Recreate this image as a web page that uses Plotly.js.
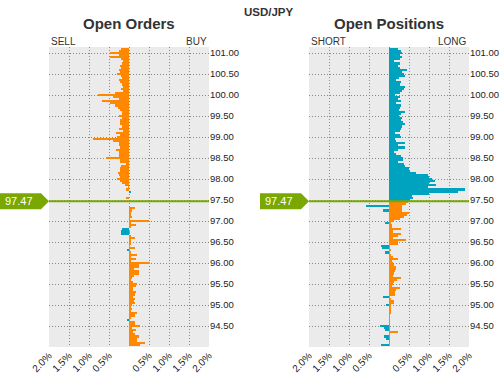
<!DOCTYPE html>
<html>
<head>
<meta charset="utf-8">
<script src="https://cdn.plot.ly/plotly-3.0.1.min.js"></script>
<style>html,body{margin:0;padding:0;background:#fff;}#chart{width:500px;height:374px;}</style>
</head>
<body>
<div id="chart"></div>
<script>
// Price levels (JPY per USD), top to bottom
var prices = [
101.10,101.05,101.00,100.95,100.90,100.85,100.80,100.75,100.70,100.65,
100.60,100.55,100.50,100.45,100.40,100.35,100.30,100.25,100.20,100.15,
100.10,100.05,100.00,99.95,99.90,99.85,99.80,99.75,99.70,99.65,
99.60,99.55,99.50,99.45,99.40,99.35,99.30,99.25,99.20,99.15,
99.10,99.05,99.00,98.95,98.90,98.85,98.80,98.75,98.70,98.65,
98.60,98.55,98.50,98.45,98.40,98.35,98.30,98.25,98.20,98.15,
98.10,98.05,98.00,97.95,97.90,97.85,97.80,97.75,97.70,97.65,
97.60,97.55,97.50,97.45,97.40,97.35,97.30,97.25,97.20,97.15,
97.10,97.05,97.00,96.95,96.90,96.85,96.80,96.75,96.70,96.65,
96.60,96.55,96.50,96.45,96.40,96.35,96.30,96.25,96.20,96.15,
96.10,96.05,96.00,95.95,95.90,95.85,95.80,95.75,95.70,95.65,
95.60,95.55,95.50,95.45,95.40,95.35,95.30,95.25,95.20,95.15,
95.10,95.05,95.00,94.95,94.90,94.85,94.80,94.75,94.70,94.65,
94.60,94.55,94.50,94.45,94.40,94.35,94.30,94.25,94.20,94.15,
94.10,94.05];

// Open orders (% of total), orange series (negative = sell side)
var ordersOrange = [
-0.21,-0.26,-0.48,-0.26,-0.48,-0.21,-0.15,-0.17,-0.23,-0.19,
-0.25,-0.23,-0.30,-0.19,-0.17,-0.25,-0.23,-0.17,-0.15,-0.20,
-0.15,-0.35,-0.78,-0.40,-0.26,-0.68,-0.47,-0.36,-0.28,-0.22,
-0.18,-0.17,-0.25,-0.17,-0.22,-0.23,-0.22,-0.17,-0.25,-0.15,
-0.32,-0.22,-0.30,-0.90,-0.40,-0.25,-0.25,-0.23,-0.33,-0.25,
-0.25,-0.25,-0.58,-0.23,-0.23,-0.08,-0.21,-0.22,-0.23,-0.27,
-0.25,-0.23,-0.30,-0.23,-0.18,-0.11,-0.03,-0.08,0,0,
0,-0.08,0,0,0,0,0.14,0.08,0.06,0.06,
0.08,0.03,0.50,0.05,0.17,0.05,0,0.03,0,0.05,
0.14,0.04,0.04,0.06,0.03,0.14,0.03,0.05,0.21,0.05,
0.17,0.05,0.52,0.24,0.24,0.13,0.25,0.24,0.12,0.08,
0.06,0.10,0.21,0.17,0.10,0.10,0.18,0.14,0.10,0.14,
0.12,0.14,0.08,0.06,0.08,0.05,0.21,0.14,0.06,0.03,
0.16,0.16,0.28,0.08,0.17,0.10,0.15,0.24,0.21,0.21,
0.39,0.28];

// Open orders, teal series
var ordersTeal = [
0,0,0,0,0,0,0,0,0,0,
0,0,0,0,0,0,0,0,0,0,
0,0,0,0,0,0,0,0,0,0,
0,0,0,0,0,0,0,0,0,0,
0,0,0,0,0,0,0,0,0,0,
0,0,0,0,0,0,0,0,0,0,
0,0,0,0,0,0,0,0,0.06,0,
0,0,0,0,0,0,0,0,0,0,
0,0,0,0,0,0,-0.17,-0.19,-0.19,0,
0,0,0,0,0,0,-0.05,0,0,0,
0,0,0,0,0,0,0,0,0,0,
0,0,0,0,0,0,0,0,0,0,
0,0,0,0,0,0,0,0,0,-0.04,
0,0,0,0,0,0,0,0,0,0,
0,0];

// Open positions (% of total), teal series (positive = long)
var positionsTeal = [
0.22,0.31,0.33,0.28,0.33,0.27,0.12,0.28,0.22,0.27,
0.45,0.33,0.37,0.39,0.25,0.18,0.31,0.27,0.39,0.37,
0.33,0.28,0.14,0.28,0.22,0.31,0.17,0.31,0.28,0.25,
0.39,0.31,0.25,0.33,0.31,0.35,0.39,0.33,0.31,0.27,
0.14,0.27,0.31,0.14,0.18,0.39,0.22,0.39,0.22,0.12,
0.17,0.31,0.35,0.35,0.22,0.37,0.39,0.50,0.52,0.67,
0.98,1.00,1.08,1.14,1.00,1.17,0.98,1.89,1.72,1.00,
0.58,0.60,0.52,0,0,-0.58,0,-0.15,0,0,
0,0,0,-0.10,0,0,0,0,0,0,
0,0,0,0,-0.19,-0.17,0,-0.11,0,0,
0,0,0,0,0,0,0,0,0,0,
0,0,0,0,0,0,0,0,-0.15,0,
0,0,-0.07,0,0,0,0,0,0,0,
0,0,-0.23,-0.12,-0.10,0,0,-0.13,-0.07,0,
0,-0.21];

// Open positions, orange series
var positionsOrange = [
0,0,0,0,0,0,0,0,0,0,
0,0,0,0,0,0,0,0,0,0,
0,0,0,0,0,0,0,0,0,0,
0,0,0,0,0,0,0,0,0,0,
0,0,0,0,0,0,0,0,0,0,
0,0,0,0,0,0,0,0,0,0,
0,0,0,0,0,0,0,0,0,0,
0,0,0,0.48,0.42,0.33,0.33,0.33,0.50,0.45,
0.37,0.27,0.12,0.06,0.08,0.08,0.31,0.10,0.31,0.22,
0.10,0.42,0.22,0.22,0.03,0.03,0.06,0.03,0.06,0.10,
0.22,0.08,0.10,0.12,0.17,0.17,0.14,0.12,0.10,0.31,
0.20,0.12,0.10,0.08,0.27,0.17,0.14,0.14,0.03,0.06,
0.12,0.12,0.05,0.06,0.06,0.06,0.06,0.03,0.03,0.03,
0.02,0.03,0.03,0.03,0.02,0.22,0.03,0.02,0.03,0.03,
0.03,0.02];

var currentPrice = 97.47;
var xTickVals = [-2,-1.5,-1,-0.5,0,0.5,1,1.5,2];
var xTickText = ['2.0%','1.5%','1.0%','0.5%','','0.5%','1.0%','1.5%','2.0%'];
var yTickVals = [94.5,95,95.5,96,96.5,97,97.5,98,98.5,99,99.5,100,100.5,101];

var ORANGE = '#ff8800', TEAL = '#00a3bf', GREEN = '#7aa800';
var FONT = 'Liberation Sans, Arial, sans-serif';

function barTrace(vals, color, xa, ya) {
  return {type:'bar', orientation:'h', x: vals, y: prices, width: 0.05,
          xaxis: xa, yaxis: ya, marker:{color: color, line:{width:0}},
          hoverinfo:'skip', showlegend:false};
}

var data = [
  barTrace(ordersOrange, ORANGE, 'x', 'y'),
  barTrace(ordersTeal, TEAL, 'x', 'y'),
  barTrace(positionsTeal, TEAL, 'x2', 'y2'),
  barTrace(positionsOrange, ORANGE, 'x2', 'y2')
];

function xAxis(domain, anchor) {
  return {domain: domain, anchor: anchor, range:[-2,2], tickvals: xTickVals, ticktext: xTickText,
          tickangle:-45, showgrid:true, gridcolor:'#888888', griddash:'1px,2px', gridwidth:1,
          zeroline:false, showline:false, ticks:'', fixedrange:true,
          tickfont:{family:FONT, size:10, color:'#222'}};
}
function yAxis(anchor) {
  return {anchor: anchor, side:'right', range:[94.0, 101.143], tickvals: yTickVals, tickformat:'.2f',
          showgrid:true, gridcolor:'#888888', griddash:'1px,2px', gridwidth:1,
          zeroline:false, showline:false, ticks:'', fixedrange:true,
          tickfont:{family:FONT, size:9.5, color:'#222'}};
}

function flag(xref, yref) {
  return {type:'path', xref: xref, yref: yref, xsizemode:'pixel', ysizemode:'pixel',
          xanchor: 0, yanchor: currentPrice,
          path:'M -49,8 L -8,8 L 0,0 L -8,-8 L -49,-8 Z',
          fillcolor: GREEN, line:{width:0}, layer:'above'};
}
function priceLine(xref, yref) {
  return {type:'line', xref: xref, yref: yref, x0:0, x1:1, y0: currentPrice, y1: currentPrice,
          line:{color: GREEN, width:2}, layer:'above'};
}
function txt(text, xref, x, xanchor, ypx, size, bold) {
  return {text: bold ? '<b>'+text+'</b>' : text, xref: xref, x: x, xanchor: xanchor,
          yref:'paper', y: 1 + (46.7 - ypx)/300, yanchor:'middle', showarrow:false,
          font:{family:FONT, size:size, color:'#333'}};
}

var layout = {
  width:500, height:374,
  margin:{l:49, r:31, t:46.7, b:27.3},
  paper_bgcolor:'#ffffff', plot_bgcolor:'#ebebeb',
  barmode:'overlay', bargap:0,
  font:{family:FONT},
  hovermode:false,
  xaxis: xAxis([0, 160/420], 'y'),
  yaxis: yAxis('x'),
  xaxis2: xAxis([260/420, 1], 'y2'),
  yaxis2: yAxis('x2'),
  shapes:[priceLine('x domain','y'), priceLine('x2 domain','y2'), flag('x domain','y'), flag('x2 domain','y2')],
  annotations:[
    txt('USD/JPY', 'paper', (268.5-49)/420, 'center', 11.5, 11.5, true),
    txt('Open Orders', 'x domain', 0.5, 'center', 23, 15, true),
    txt('Open Positions', 'x2 domain', 0.5, 'center', 23, 15, true),
    txt('SELL', 'x domain', 0, 'left', 41.5, 10, false),
    txt('BUY', 'x domain', 1, 'right', 41.5, 10, false),
    txt('SHORT', 'x2 domain', 0, 'left', 41.5, 10, false),
    txt('LONG', 'x2 domain', 1, 'right', 41.5, 10, false),
    {text:'97.47', xref:'x domain', x:0, xanchor:'left', xshift:-46, yref:'y', y: currentPrice, yanchor:'middle',
     showarrow:false, font:{family:FONT, size:11, color:'#ffffff'}},
    {text:'97.47', xref:'x2 domain', x:0, xanchor:'left', xshift:-46, yref:'y2', y: currentPrice, yanchor:'middle',
     showarrow:false, font:{family:FONT, size:11, color:'#ffffff'}}
  ]
};

Plotly.newPlot('chart', data, layout, {displayModeBar:false, staticPlot:true});
</script>
</body>
</html>
